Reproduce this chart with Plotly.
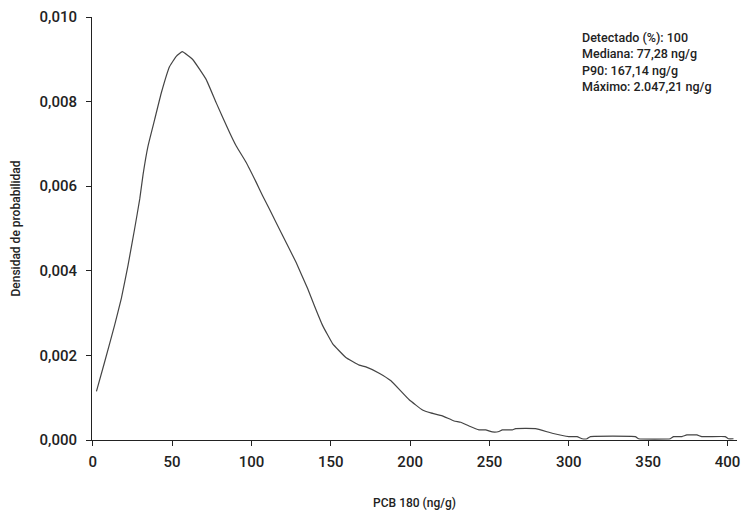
import plotly.graph_objects as go

# PCB 180 concentration (ng/g) and estimated probability density
pcb_x = [2.3, 7.5, 13.8, 18, 22.2, 26.4, 29.6, 31.7, 34.8, 39, 43.2, 48.4, 52.6, 56.4,
         63.1, 71.5, 77.8, 86.2, 90.4, 96.7, 103, 107.1, 111.3, 119.7, 128.1, 135.4,
         139.6, 144.8, 151.1, 159.5, 167.9, 172.1, 180.5, 187.9, 199.4, 207.8, 213,
         220.3, 227.7, 231.9, 237.1, 243.4, 247.6, 251.8, 256, 258.1, 264.4, 266.5,
         279, 289.5, 300, 305.2, 308.4, 311.5, 313.6, 341.9, 344, 364, 366, 371.3,
         374.4, 380.7, 383.8, 398.5, 400.6, 403.8]
density = [0.00115, 0.00185, 0.00272, 0.00335, 0.00413, 0.00500, 0.00570, 0.00628,
           0.00695, 0.00758, 0.00821, 0.00883, 0.00907, 0.00918, 0.00899, 0.00852,
           0.00797, 0.00727, 0.00695, 0.00656, 0.00609, 0.00577, 0.00546, 0.00483,
           0.00420, 0.00358, 0.00318, 0.00271, 0.00228, 0.00195, 0.00177, 0.00173,
           0.00158, 0.00140, 0.00095, 0.00071, 0.00064, 0.00057, 0.00045, 0.00042,
           0.00033, 0.00024, 0.00024, 0.00019, 0.00020, 0.00024, 0.00024, 0.00027,
           0.00027, 0.00016, 0.00008, 0.00008, 0.00003, 0.00003, 0.00008, 0.00008,
           0.00003, 0.00003, 0.00008, 0.00008, 0.00012, 0.00012, 0.00008, 0.00008,
           0.00003, 0.00003]

x_ticks = [0, 50, 100, 150, 200, 250, 300, 350, 400]
y_ticks = [0.000, 0.002, 0.004, 0.006, 0.008, 0.010]

stats_lines = ["Detectado (%): 100", "Mediana: 77,28 ng/g",
               "P90: 167,14 ng/g", "Máximo: 2.047,21 ng/g"]

FONT = "Roboto"
TXT = "#222222"

fig = go.Figure()
fig.add_trace(go.Scatter(x=pcb_x, y=density, mode="lines",
                         line=dict(color="#444444", width=1.2, shape="spline", smoothing=0.3),
                         showlegend=False, hoverinfo="skip"))

fig.update_layout(
    width=744, height=511,
    margin=dict(l=92, r=4, t=17, b=69),
    paper_bgcolor="white", plot_bgcolor="white",
    separators=",.",
    font=dict(family=FONT, color=TXT),
    xaxis=dict(range=[-0.5, 406], tickvals=x_ticks, ticks="outside", ticklen=5,
               tickcolor="#222", showline=True, linecolor="#222", linewidth=1,
               showgrid=False, zeroline=False, ticklabelstandoff=3,
               tickfont=dict(size=15, family=FONT, color=TXT, weight=500),
               title=dict(text="PCB 180 (ng/g)",
                          font=dict(size=12, family=FONT, color=TXT, weight=500),
                          standoff=28)),
    yaxis=dict(range=[0, 0.010], tickvals=y_ticks, tickformat=".3f", ticks="outside",
               ticklen=5, tickcolor="#222", showline=True, linecolor="#222", linewidth=1,
               showgrid=False, zeroline=False, ticklabelstandoff=6,
               tickfont=dict(size=15, family=FONT, color=TXT, weight=500),
               title=dict(text="Densidad de probabilidad",
                          font=dict(size=12, family=FONT, color=TXT, weight=500),
                          standoff=16)),
)

fig.add_annotation(xref="paper", yref="paper", x=0.757, y=0.975,
                   xanchor="left", yanchor="top", align="left", showarrow=False,
                   text="<br>".join(stats_lines),
                   font=dict(size=12.5, family=FONT, color=TXT, weight=500))

fig.write_html("out.html")
